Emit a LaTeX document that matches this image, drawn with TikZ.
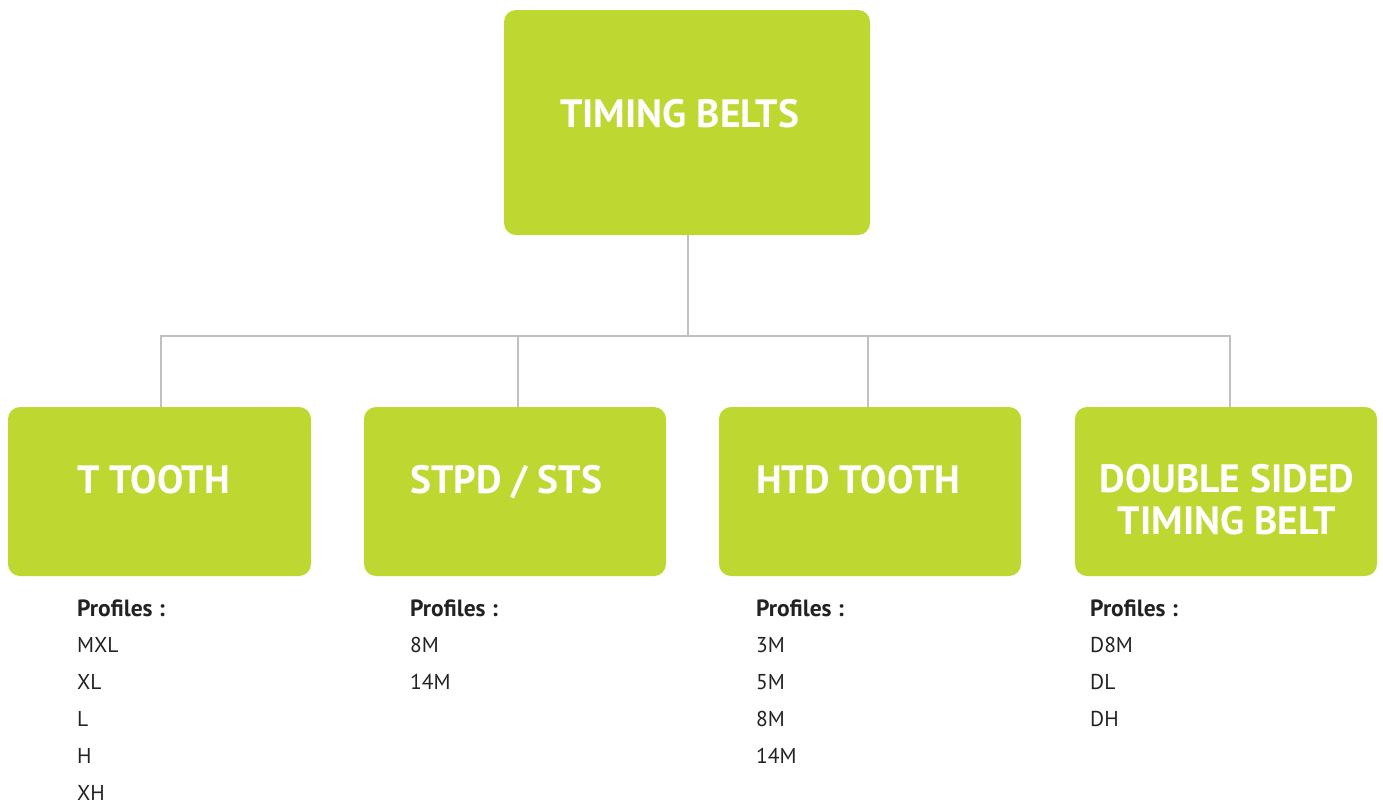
\documentclass[tikz,border=0pt]{standalone}
\usepackage{fontspec}
\setmainfont{PT Sans}
\definecolor{beltgreen}{HTML}{BFD831}
\definecolor{linegray}{HTML}{C0C0C2}
\definecolor{txtdark}{HTML}{222222}
\begin{document}
\begin{tikzpicture}[x=1pt,y=-1pt,
  box/.style={fill=beltgreen,rounded corners=12pt,inner sep=0pt,draw=none},
  title/.style={text=white,font=\fontsize{39.5}{42}\selectfont\bfseries,inner sep=0pt},
  head/.style={text=txtdark,font=\fontsize{23.5}{25}\selectfont\bfseries,inner sep=0pt,anchor=base west},
  item/.style={text=txtdark,font=\fontsize{21.5}{25}\selectfont,inner sep=0pt,anchor=base west},
  conn/.style={draw=linegray,line width=2.5pt}]
\useasboundingbox (0,0) rectangle (1383,804);
% boxes
\node[box,minimum width=366pt,minimum height=225pt] (top) at (687,122.5) {};
\node[box,minimum width=303pt,minimum height=169pt] (b1) at (159.5,491.5) {};
\node[box,minimum width=302pt,minimum height=169pt] (b2) at (515,491.5) {};
\node[box,minimum width=302pt,minimum height=169pt] (b3) at (870,491.5) {};
\node[box,minimum width=302pt,minimum height=169pt] (b4) at (1226,491.5) {};
% connectors
\coordinate (hub) at (688,336);
\draw[conn] (top.south -| hub) -- (hub);
\draw[conn] (b1.north -| 161,0) |- (hub);
\draw[conn] (b2.north -| 518,0) |- (hub);
\draw[conn] (b3.north -| 868,0) |- (hub);
\draw[conn] (b4.north -| 1230,0) |- (hub);
% titles
\node[title,anchor=base west] (t0) at (560,127) {TIMING BELTS};
\node[title,anchor=base west] (t1) at (77,493) {T TOOTH};
\node[title,anchor=base west] (t2) at (410,493) {STPD / STS};
\node[title,anchor=base west] (t3) at (756,493) {HTD TOOTH};
\node[title,anchor=base,align=center] (t4) at (1227,534) {DOUBLE SIDED\\TIMING BELT};
% lists
\node[head] (h1) at (77,616) {Profiles :};
\node[item] (i11) at (77,652) {MXL};
\node[item] (i12) at (77,689) {XL};
\node[item] (i13) at (77,726) {L};
\node[item] (i14) at (77,763) {H};
\node[item] (i15) at (77,800) {XH};
\node[head] (h2) at (410,616) {Profiles :};
\node[item] (i21) at (410,652) {8M};
\node[item] (i22) at (410,689) {14M};
\node[head] (h3) at (756,616) {Profiles :};
\node[item] (i31) at (756,652) {3M};
\node[item] (i32) at (756,689) {5M};
\node[item] (i33) at (756,726) {8M};
\node[item] (i34) at (756,763) {14M};
\node[head] (h4) at (1090,616) {Profiles :};
\node[item] (i41) at (1090,652) {D8M};
\node[item] (i42) at (1090,689) {DL};
\node[item] (i43) at (1090,726) {DH};
\end{tikzpicture}
\end{document}
